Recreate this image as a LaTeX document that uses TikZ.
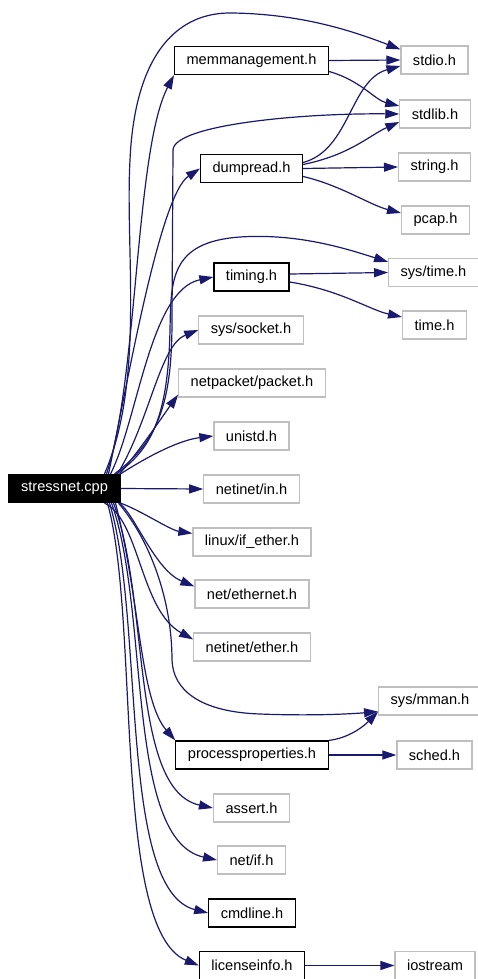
\documentclass[tikz,border=0pt]{standalone}
\usepackage{fontspec}
\setmainfont{Liberation Sans}
\usepackage{xcolor}
\usetikzlibrary{arrows.meta}
\definecolor{edgeBlue}{HTML}{191970}
\definecolor{boxGrey}{HTML}{BFBFBF}

\begin{document}
\begin{tikzpicture}[
    x=1pt, y=-1pt,
    box/.style={draw=boxGrey, fill=white, line width=1.2pt, inner xsep=12pt, inner ysep=0pt, minimum height=28pt, font=\fontsize{14.6}{17}\selectfont},
    arrow/.style={-{Triangle[length=14pt,width=9pt]}, draw=edgeBlue, line width=1.2pt}
  ]
    \useasboundingbox (0,0) rectangle (478,979);
    \node[box, fill=black, draw=black, text=white] (cpp) at (64.5,488.5) {stressnet.cpp};
    \node[box, draw=black] (mem) at (251.5,60.5) {memmanagement.h};
    \node[box] (stdio) at (434.5,60) {stdio.h};
    \node[box] (stdlib) at (435,114) {stdlib.h};
    \node[box, draw=black] (dump) at (251.5,168.5) {dumpread.h};
    \node[box] (string) at (434.5,167) {string.h};
    \node[box] (pcap) at (435.5,220) {pcap.h};
    \node[box] (systime) at (433.5,272.5) {sys/time.h};
    \node[box, draw=black] (timing) at (251.5,277) {timing.h};
    \node[box] (timeh) at (434.5,325) {time.h};
    \node[box] (socket) at (251,330) {sys/socket.h};
    \node[box] (packet) at (252,383) {netpacket/packet.h};
    \node[box] (unistd) at (251.5,436) {unistd.h};
    \node[box] (netin) at (251.5,489) {netinet/in.h};
    \node[box] (ifether) at (252,542) {linux/if\_ether.h};
    \node[box] (eth) at (252,594) {net/ethernet.h};
    \node[box] (nether) at (252,647) {netinet/ether.h};
    \node[box] (mman) at (430,701) {sys/mman.h};
    \node[box, draw=black] (proc) at (252,755) {processproperties.h};
    \node[box] (sched) at (434.5,755) {sched.h};
    \node[box] (assert) at (251.5,808) {assert.h};
    \node[box] (netif) at (251.5,860) {net/if.h};
    \node[box, draw=black] (cmdline) at (252,913) {cmdline.h};
    \node[box, draw=black] (license) at (252,965.5) {licenseinfo.h};
    \node[box] (iostream) at (435,965.5) {iostream};

    \draw[arrow] ([xshift=-16pt]cpp.north east) .. controls (145,380) and (125,250) .. (130,160)
      .. controls (135,50) and (180,12) .. (232,13) .. controls (300,14) and (350,30) .. ([yshift=-4pt]stdio.north west);
    \draw[arrow] ([xshift=-14pt]cpp.north east) .. controls (138,380) and (135,150) .. (mem.south west);
    \draw[arrow] ([xshift=-6pt]cpp.north east) .. controls (160,440) and (172,400) .. (172,320)
      -- (173,150) .. controls (174,125) and (300,113) .. (stdlib.west);
    \draw[arrow] ([xshift=-12pt]cpp.north east) .. controls (128,380) and (160,195) .. (dump.west);
    \draw[arrow] ([xshift=-4pt]cpp.north east) .. controls (150,450) and (168,420) .. (170,330)
      .. controls (171,280) and (170,242) .. (240,237) .. controls (300,233) and (350,250) .. ([yshift=-4pt]systime.north west);
    \draw[arrow] ([xshift=-10pt]cpp.north east) .. controls (138,420) and (150,290) .. (timing.west);
    \draw[arrow] ([xshift=-3pt]cpp.north east) .. controls (150,420) and (160,345) .. (socket.west);
    \draw[arrow] ([xshift=-1pt]cpp.north east) .. controls (140,450) and (160,420) .. ([yshift=3pt]packet.south west);
    \draw[arrow] (cpp.north east) .. controls (150,455) and (180,440) .. (unistd.west);
    \draw[arrow] (cpp.east) -- (netin.west);
    \draw[arrow] (cpp.south east) .. controls (140,510) and (170,530) .. ([yshift=-6pt]ifether.north west);
    \draw[arrow] ([xshift=-1pt]cpp.south east) .. controls (135,515) and (155,570) .. ([yshift=-7pt]eth.north west);
    \draw[arrow] ([xshift=-16pt]cpp.south east) .. controls (140,520) and (140,610) .. ([yshift=-7pt]nether.north west);
    \draw[arrow] ([xshift=-2pt]cpp.south east) .. controls (150,540) and (172,600) .. (172,660)
      .. controls (173,690) and (200,712) .. (260,714) .. controls (310,716) and (350,714) .. ([yshift=4pt]mman.south west);
    \draw[arrow] ([xshift=-5pt]cpp.south east) .. controls (140,600) and (140,700) .. (proc.north west);
    \draw[arrow] ([xshift=-7pt]cpp.south east) .. controls (150,600) and (130,790) .. (assert.west);
    \draw[arrow] ([xshift=-9pt]cpp.south east) .. controls (150,610) and (125,840) .. (netif.west);
    \draw[arrow] ([xshift=-11pt]cpp.south east) .. controls (145,620) and (118,890) .. (cmdline.west);
    \draw[arrow] ([xshift=-13pt]cpp.south east) .. controls (140,620) and (112,930) .. (license.west);

    \draw[arrow] (mem.east) -- (stdio.west);
    \draw[arrow] ([yshift=-11pt]mem.east) .. controls (360,80) and (375,100) .. ([yshift=8pt]stdlib.west);
    \draw[arrow] ([yshift=6pt]dump.east) .. controls (350,150) and (350,80) .. ([yshift=-6pt]stdio.west);
    \draw[arrow] ([yshift=4pt]dump.east) .. controls (350,155) and (370,135) .. ([yshift=-8pt]stdlib.west);
    \draw[arrow] (dump.east) -- (string.west);
    \draw[arrow] ([yshift=-8pt]dump.east) .. controls (340,185) and (370,205) .. ([yshift=7pt]pcap.west);
    \draw[arrow] ([yshift=3pt]timing.east) -- (systime.west);
    \draw[arrow] ([yshift=-5pt]timing.east) .. controls (340,290) and (370,310) .. ([yshift=8pt]timeh.west);
    \draw[arrow] (proc.north east) .. controls (350,738) and (365,725) .. ([yshift=4pt]mman.south west);
    \draw[arrow] (proc.east) -- (sched.west);
    \draw[arrow] (license.east) -- (iostream.west);
  \end{tikzpicture}
\end{document}
